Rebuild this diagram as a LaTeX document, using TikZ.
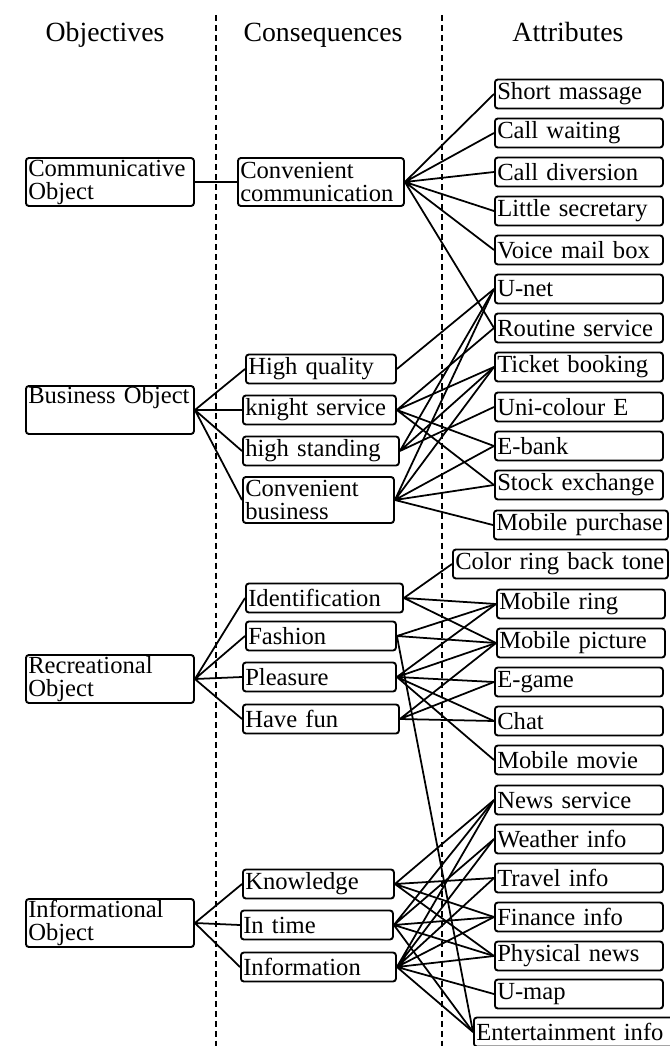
\documentclass[tikz,border=0pt]{standalone}
\usepackage{fontspec}
\setmainfont{Liberation Serif}
\usepackage{tikz}
\usetikzlibrary{positioning}

\newcommand\boxfont{\fontsize{21pt}{19.6pt}\selectfont}
\newcommand\headfont{\fontsize{23.7pt}{26pt}\selectfont}

\tikzset{
  box/.style={draw, line width=1.6pt, rounded corners=2.5pt, anchor=west, align=left,
    inner xsep=2pt, inner ysep=0pt, font=\boxfont, text width=#1, minimum height=0.87cm},
  box/.default=4.9cm,
  tall/.style={minimum height=1.44cm},
  link/.style={line width=1.5pt},
  divider/.style={line width=1.7pt, dash pattern=on 5pt off 3.5pt},
  head/.style={font=\headfont, anchor=base},
}

\begin{document}
\begin{tikzpicture}[x=0.03cm, y=-0.03cm]
  % pixel units, origin top left
  \useasboundingbox (0,0) rectangle (669,1046);
  \def\ox{25}    % objectives, left edge
  \def\ax{494}   % attributes, left edge
  % column dividers
  \draw[divider] (216,15) -- (216,1046);
  \draw[divider] (442,15) -- (442,1046);
  % headers
  \node[head] (hobj) at (105,42) {Objectives};
  \node[head] (hcon) at (323,42) {Consequences};
  \node[head] (hatt) at (568,42) {Attributes};
  % objectives
  \node[box, tall] (comm) at (\ox,182) {Communicative\\Object};
  \node[box, tall] (bus) at (\ox,410) {Business Object\\\strut};
  \node[box, tall] (rec) at (\ox,679) {Recreational\\Object};
  \node[box, tall] (inf) at (\ox,923) {Informational\\Object};
  % consequences
  \node[box=4.84cm, tall] (conv) at (237,182) {Convenient\\communication};
  \node[box=4.36cm] (hq) at (245,369) {High quality};
  \node[box=4.45cm] (ks) at (242,410) {knight service};
  \node[box=4.54cm] (hs) at (242,451) {high standing};
  \node[box=4.39cm, minimum height=1.38cm] (cb) at (242,500) {Convenient\\business};
  \node[box=4.57cm] (iden) at (245,598) {Identification};
  \node[box=4.36cm] (fash) at (245,636) {Fashion};
  \node[box=4.45cm] (plea) at (242,677) {Pleasure};
  \node[box=4.54cm] (fun) at (242,719) {Have fun};
  \node[box=4.39cm] (know) at (242,884) {Knowledge};
  \node[box=4.42cm] (intime) at (240,925) {In time};
  \node[box=4.51cm] (info) at (240,967) {Information};
  % attributes
  \node[box] (sm) at (\ax,94) {Short massage};
  \node[box] (cw) at (\ax,133) {Call waiting};
  \node[box] (cd) at (\ax,172) {Call diversion};
  \node[box] (ls) at (\ax,211) {Little secretary};
  \node[box] (vm) at (\ax,250) {Voice mail box};
  \node[box] (un) at (\ax,289) {U-net};
  \node[box] (rs) at (\ax,328) {Routine service};
  \node[box] (tb) at (\ax,367) {Ticket booking};
  \node[box] (uc) at (\ax,407) {Uni-colour E};
  \node[box] (eb) at (\ax,446) {E-bank};
  \node[box] (se) at (\ax,485) {Stock exchange};
  \node[box=5.08cm] (mp) at (493,525) {Mobile purchase};
  \node[box=6.31cm] (crbt) at (452,564) {Color ring back tone};
  \node[box] (mr) at (496,604) {Mobile ring};
  \node[box] (mpic) at (496,643) {Mobile picture};
  \node[box] (eg) at (\ax,682) {E-game};
  \node[box] (chat) at (\ax,721) {Chat};
  \node[box] (mm) at (\ax,760) {Mobile movie};
  \node[box] (ns) at (\ax,800) {News service};
  \node[box] (wi) at (\ax,839) {Weather info};
  \node[box] (ti) at (\ax,878) {Travel info};
  \node[box] (fi) at (\ax,917) {Finance info};
  \node[box] (pn) at (\ax,956) {Physical news};
  \node[box] (um) at (\ax,994) {U-map};
  \node[box=5.95cm] (ent) at (473,1032) {Entertainment info};
  % objectives to consequences
  \draw[link] (comm.east) -- (conv.west);
  \draw[link] (bus.east) -- (hq.west) (bus.east) -- (ks.west)
    (bus.east) -- (hs.west) (bus.east) -- (cb.west);
  \draw[link] (rec.east) -- (iden.west) (rec.east) -- (fash.west)
    (rec.east) -- (plea.west) (rec.east) -- (fun.west);
  \draw[link] (inf.east) -- (know.west) (inf.east) -- (intime.west)
    (inf.east) -- (info.west);
  % consequences to attributes
  \draw[link] (conv.east) -- (sm.west) (conv.east) -- (cw.west)
    (conv.east) -- (cd.west) (conv.east) -- (ls.west)
    (conv.east) -- (vm.west) (conv.east) -- (rs.west);
  \draw[link] (hq.east) -- (un.west);
  \draw[link] (ks.east) -- (rs.west) (ks.east) -- (tb.west)
    (ks.east) -- (eb.west) (ks.east) -- (se.west);
  \draw[link] (hs.east) -- (un.west) (hs.east) -- (tb.west)
    (hs.east) -- (uc.west);
  \draw[link] (cb.east) -- (un.west) (cb.east) -- (tb.west)
    (cb.east) -- (eb.west) (cb.east) -- (se.west) (cb.east) -- (mp.west);
  \draw[link] (iden.east) -- (crbt.west) (iden.east) -- (mr.west)
    (iden.east) -- (mpic.west);
  \draw[link] (fash.east) -- (mr.west) (fash.east) -- (mpic.west)
    (fash.east) -- (ent.west);
  \draw[link] (plea.east) -- (mr.west) (plea.east) -- (mpic.west)
    (plea.east) -- (eg.west) (plea.east) -- (chat.west) (plea.east) -- (mm.west);
  \draw[link] (fun.east) -- (mpic.west) (fun.east) -- (eg.west)
    (fun.east) -- (chat.west);
  \draw[link] (know.east) -- (ns.west) (know.east) -- (ti.west)
    (know.east) -- (fi.west) (know.east) -- (pn.west);
  \draw[link] (intime.east) -- (ns.west) (intime.east) -- (wi.west)
    (intime.east) -- (fi.west) (intime.east) -- (pn.west) (intime.east) -- (ent.west);
  \draw[link] (info.east) -- (ns.west) (info.east) -- (wi.west)
    (info.east) -- (ti.west) (info.east) -- (fi.west) (info.east) -- (pn.west)
    (info.east) -- (um.west) (info.east) -- (ent.west);
\end{tikzpicture}
\end{document}
